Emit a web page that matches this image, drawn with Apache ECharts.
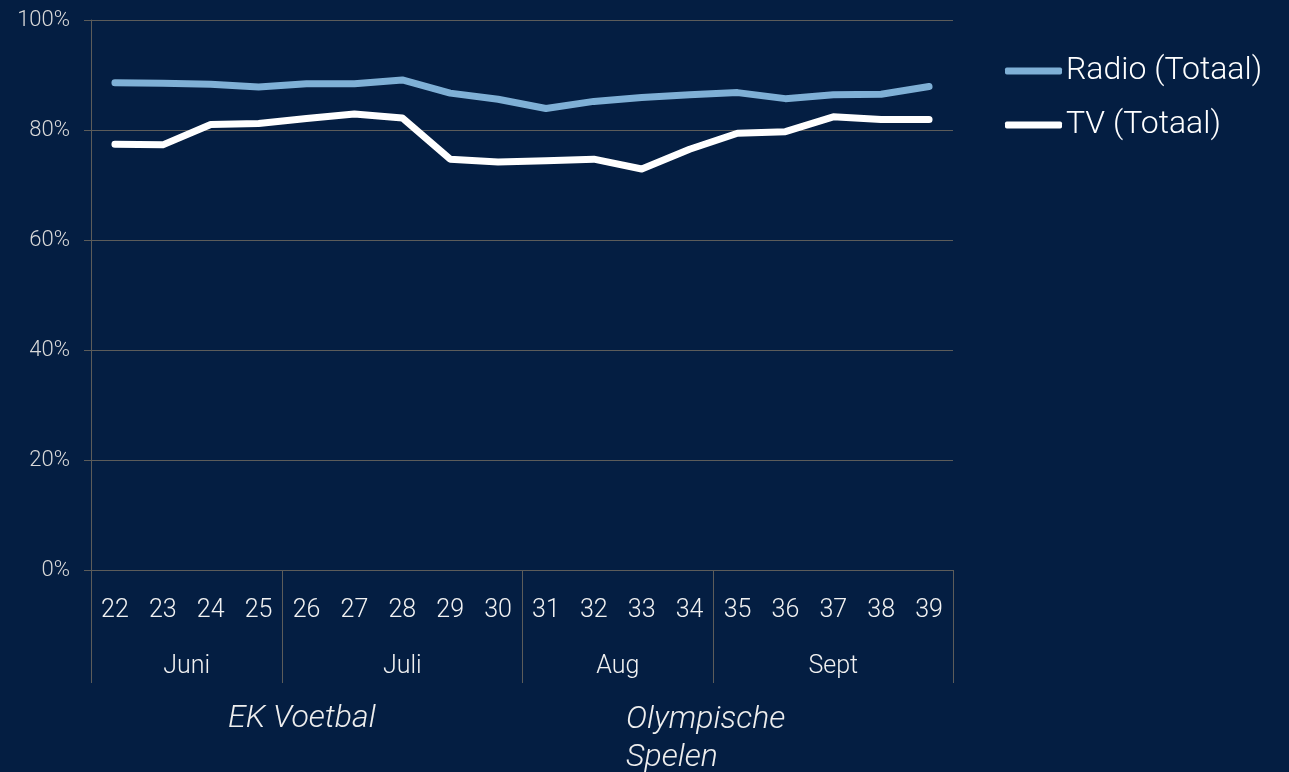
<!DOCTYPE html>
<html>
<head>
<meta charset="utf-8">
<script src="https://cdn.jsdelivr.net/npm/echarts@6/dist/echarts.min.js"></script>
<style>
  html, body { margin: 0; padding: 0; background: #041e42; }
  #chart { width: 1289px; height: 772px; }
</style>
</head>
<body>
<div id="chart"></div>
<script>
// NOTE - data
const weeks = ['22', '23', '24', '25', '26', '27', '28', '29', '30', '31', '32', '33', '34', '35', '36', '37', '38', '39']
const radio = [88.6, 88.5, 88.3, 87.8, 88.4, 88.4, 89.1, 86.7, 85.6, 83.9, 85.2, 85.9, 86.4, 86.8, 85.7, 86.4, 86.5, 87.9]
const tv = [77.4, 77.3, 81.0, 81.2, 82.1, 82.9, 82.2, 74.7, 74.2, 74.4, 74.7, 72.9, 76.5, 79.4, 79.7, 82.4, 81.9, 81.9]
const months = ['Juni', 'Juli', 'Aug', 'Sept']
const monthWeeks = [4, 5, 4, 5]

// NOTE - month group boundaries / centers (in week units)
const bounds = [0]
monthWeeks.forEach(n => bounds.push(bounds[bounds.length - 1] + n))
const centers = months.map((m, i) => (bounds[i] + bounds[i + 1]) / 2)

const font = 'Roboto, "Noto Sans", sans-serif'
const gray = '#5c5c5a'

const myChart = echarts.init(document.querySelector('#chart'))
const option = {
    backgroundColor: '#041e42',
    textStyle: { fontFamily: font, fontWeight: 300 },
    grid: {
        left: 91,
        right: 336,
        top: 20,
        bottom: 202,
    },
    legend: {
        orient: 'vertical',
        left: 1005,
        top: 53,
        padding: 0,
        itemWidth: 57,
        itemHeight: 7,
        itemGap: 18,
        icon: 'roundRect',
        textStyle: {
            color: '#ffffff',
            fontSize: 32,
            fontFamily: font,
            fontWeight: 300,
            lineHeight: 36,
            padding: [0, 0, 0, -1],
        },
        data: ['Radio (Totaal)', 'TV (Totaal)'],
    },
    xAxis: [
        {
            type: 'category',
            data: weeks,
            axisLine: { lineStyle: { color: gray, width: 1 } },
            axisTick: { show: false },
            axisLabel: {
                color: '#f2f2f2',
                fontSize: 25,
                fontFamily: font,
                fontWeight: 300,
                margin: 28,
                interval: 0,
            },
        },
        {
            type: 'value',
            position: 'bottom',
            min: 0,
            max: weeks.length,
            axisLine: { show: false },
            splitLine: { show: false },
            axisTick: {
                show: true,
                customValues: bounds,
                length: 113,
                lineStyle: { color: gray, width: 1 },
            },
            axisLabel: {
                customValues: centers,
                formatter: v => months[centers.indexOf(v)] || '',
                color: '#f2f2f2',
                fontSize: 25,
                fontFamily: font,
                fontWeight: 300,
                margin: 84,
            },
        },
    ],
    yAxis: {
        type: 'value',
        min: 0,
        max: 100,
        interval: 20,
        axisLine: { show: true, lineStyle: { color: gray, width: 1 } },
        axisTick: { show: true, length: 7, lineStyle: { color: gray } },
        splitLine: { lineStyle: { color: gray, width: 1 } },
        axisLabel: {
            formatter: '{value}%',
            color: '#d9d9d9',
            fontSize: 22,
            fontFamily: font,
            fontWeight: 300,
            margin: 21,
        },
    },
    series: [
        {
            name: 'Radio (Totaal)',
            type: 'line',
            data: radio,
            showSymbol: false,
            color: '#7fb0d6',
            lineStyle: { width: 7, color: '#7fb0d6', cap: 'round', join: 'round' },
        },
        {
            name: 'TV (Totaal)',
            type: 'line',
            data: tv,
            showSymbol: false,
            color: '#ffffff',
            lineStyle: { width: 7, color: '#ffffff', cap: 'round', join: 'round' },
        },
    ],
    graphic: [
        {
            type: 'text',
            left: 228,
            top: 703,
            style: {
                text: 'EK Voetbal',
                fill: '#eeeeee',
                font: 'italic 300 32px ' + font,
            },
        },
        {
            type: 'text',
            left: 626,
            top: 701,
            style: {
                text: 'Olympische\nSpelen',
                fill: '#eeeeee',
                font: 'italic 300 32px ' + font,
                lineHeight: 38,
            },
        },
    ],
}
myChart.setOption(option)
</script>
</body>
</html>
